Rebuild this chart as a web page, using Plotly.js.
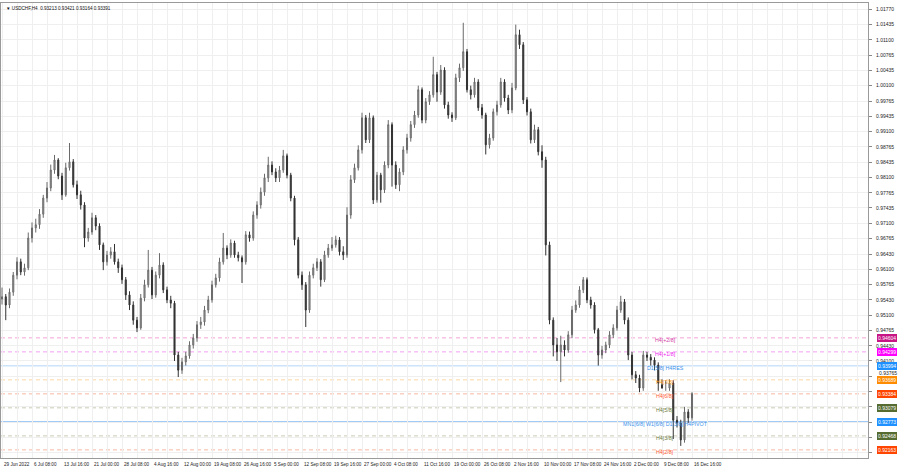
<!DOCTYPE html>
<html>
<head>
<meta charset="utf-8">
<script src="https://cdn.plot.ly/plotly-3.0.1.min.js"></script>
<style>html,body{margin:0;padding:0;background:#fff;}#chart{width:900px;height:468px;}</style>
</head>
<body>
<div id="chart"></div>
<script>
// ---- DATA ----
const titleText = "\u25BC USDCHF,H4  0.93213 0.93421 0.93164 0.93391";

const openP = [0.9545,0.9550,0.9532,0.9560,0.9597,0.9626,0.9604,0.9613,0.9678,0.9700,
0.9707,0.9730,0.9765,0.9787,0.9826,0.9848,0.9813,0.9772,0.9831,0.9844,
0.9794,0.9772,0.9750,0.9678,0.9691,0.9722,0.9704,0.9663,0.9626,0.9641,
0.9648,0.9626,0.9613,0.9587,0.9554,0.9532,0.9499,0.9482,0.9547,0.9576,
0.9608,0.9554,0.9597,0.9619,0.9565,0.9543,0.9536,0.9423,0.9390,0.9408,
0.9421,0.9445,0.9460,0.9489,0.9495,0.9521,0.9543,0.9576,0.9591,0.9626,
0.9656,0.9641,0.9667,0.9641,0.9635,0.9626,0.9685,0.9678,0.9728,0.9750,
0.9778,0.9809,0.9837,0.9822,0.9809,0.9826,0.9857,0.9815,0.9765,0.9674,
0.9597,0.9576,0.9521,0.9597,0.9613,0.9626,0.9587,0.9641,0.9656,0.9663,
0.9674,0.9648,0.9641,0.9728,0.9805,0.9831,0.9870,0.9940,0.9892,0.9940,
0.9761,0.9815,0.9783,0.9837,0.9925,0.9837,0.9794,0.9822,0.9870,0.9896,
0.9925,0.9946,1.0001,0.9935,0.9975,0.9990,1.0034,0.9996,1.0044,0.9968,
0.9946,0.9940,1.0027,1.0049,1.0084,1.0001,0.9990,1.0018,0.9962,0.9946,
0.9881,0.9896,0.9953,0.9968,1.0018,0.9983,0.9957,1.0005,1.0121,1.0099,
0.9979,0.9953,0.9892,0.9914,0.9866,0.9848,0.9663,0.9499,0.9445,0.9430,
0.9445,0.9434,0.9467,0.9521,0.9532,0.9565,0.9587,0.9543,0.9532,0.9478,
0.9423,0.9434,0.9445,0.9467,0.9482,0.9521,0.9539,0.9499,0.9423,0.9380,
0.9373,0.9351,0.9423,0.9418,0.9412,0.9401,0.9358,0.9362,0.9351,0.9362,
0.9281,0.9275,0.9238,0.9299,0.9286];

const highP = [0.9570,0.9556,0.9568,0.9604,0.9636,0.9633,0.9622,0.9690,0.9712,0.9720,
0.9741,0.9772,0.9800,0.9838,0.9859,0.9852,0.9820,0.9842,0.9885,0.9850,
0.9803,0.9781,0.9756,0.9700,0.9733,0.9728,0.9710,0.9668,0.9650,0.9658,
0.9665,0.9633,0.9620,0.9593,0.9562,0.9540,0.9506,0.9556,0.9587,0.9652,
0.9615,0.9605,0.9645,0.9625,0.9572,0.9552,0.9541,0.9430,0.9417,0.9430,
0.9453,0.9469,0.9497,0.9506,0.9530,0.9552,0.9585,0.9600,0.9635,0.9689,
0.9662,0.9675,0.9672,0.9648,0.9640,0.9693,0.9692,0.9736,0.9758,0.9788,
0.9818,0.9855,0.9845,0.9830,0.9835,0.9870,0.9862,0.9820,0.9770,0.9680,
0.9605,0.9582,0.9605,0.9622,0.9634,0.9632,0.9650,0.9665,0.9680,0.9683,
0.9680,0.9660,0.9745,0.9815,0.9840,0.9880,0.9951,0.9946,0.9951,0.9945,
0.9822,0.9820,0.9845,0.9935,0.9930,0.9845,0.9830,0.9878,0.9905,0.9933,
0.9955,1.0010,1.0006,0.9983,0.9998,1.0073,1.0040,1.0055,1.0050,0.9975,
0.9952,1.0036,1.0058,1.0147,1.0090,1.0010,1.0027,1.0024,0.9970,0.9951,
0.9905,0.9960,0.9977,1.0027,1.0024,0.9990,1.0016,1.0143,1.0132,1.0105,
0.9985,0.9960,0.9925,0.9920,0.9880,0.9855,0.9670,0.9505,0.9460,0.9465,
0.9455,0.9475,0.9530,0.9542,0.9573,0.9593,0.9592,0.9550,0.9538,0.9482,
0.9443,0.9452,0.9475,0.9490,0.9530,0.9552,0.9545,0.9505,0.9430,0.9388,
0.9380,0.9432,0.9430,0.9425,0.9418,0.9407,0.9370,0.9368,0.9370,0.9368,
0.9290,0.9282,0.9310,0.9305,0.9342];

const lowP = [0.9533,0.9499,0.9525,0.9552,0.9588,0.9597,0.9596,0.9608,0.9668,0.9690,
0.9698,0.9722,0.9756,0.9780,0.9818,0.9806,0.9761,0.9768,0.9825,0.9788,
0.9763,0.9740,0.9658,0.9670,0.9685,0.9695,0.9652,0.9608,0.9618,0.9633,
0.9620,0.9602,0.9578,0.9543,0.9521,0.9489,0.9473,0.9478,0.9540,0.9570,
0.9545,0.9548,0.9590,0.9558,0.9536,0.9525,0.9410,0.9375,0.9382,0.9400,
0.9415,0.9437,0.9452,0.9480,0.9487,0.9514,0.9537,0.9570,0.9583,0.9620,
0.9632,0.9635,0.9635,0.9627,0.9580,0.9620,0.9670,0.9672,0.9720,0.9742,
0.9770,0.9800,0.9815,0.9800,0.9800,0.9820,0.9808,0.9758,0.9662,0.9590,
0.9565,0.9484,0.9515,0.9590,0.9606,0.9572,0.9582,0.9635,0.9650,0.9657,
0.9640,0.9630,0.9635,0.9720,0.9798,0.9825,0.9862,0.9885,0.9885,0.9752,
0.9755,0.9755,0.9776,0.9830,0.9790,0.9785,0.9780,0.9815,0.9862,0.9888,
0.9918,0.9940,0.9928,0.9928,0.9968,0.9984,0.9975,0.9990,0.9960,0.9938,
0.9931,0.9935,1.0018,1.0042,0.9995,0.9980,0.9984,0.9955,0.9938,0.9860,
0.9873,0.9890,0.9945,0.9962,0.9975,0.9948,0.9950,1.0000,1.0090,0.9970,
0.9945,0.9884,0.9885,0.9858,0.9831,0.9640,0.9490,0.9420,0.9410,0.9364,
0.9420,0.9428,0.9460,0.9515,0.9526,0.9558,0.9536,0.9524,0.9470,0.9400,
0.9415,0.9427,0.9438,0.9460,0.9476,0.9515,0.9490,0.9412,0.9370,0.9362,
0.9342,0.9345,0.9410,0.9400,0.9390,0.9345,0.9350,0.9345,0.9345,0.9240,
0.9265,0.9225,0.9232,0.9275,0.9280];

const closeP = [0.9550,0.9532,0.9560,0.9597,0.9626,0.9604,0.9613,0.9678,0.9700,0.9707,
0.9730,0.9765,0.9787,0.9826,0.9848,0.9813,0.9772,0.9831,0.9844,0.9794,
0.9772,0.9750,0.9678,0.9691,0.9722,0.9704,0.9663,0.9626,0.9641,0.9648,
0.9626,0.9613,0.9587,0.9554,0.9532,0.9499,0.9482,0.9547,0.9576,0.9608,
0.9554,0.9597,0.9619,0.9565,0.9543,0.9536,0.9423,0.9390,0.9408,0.9421,
0.9445,0.9460,0.9489,0.9495,0.9521,0.9543,0.9576,0.9591,0.9626,0.9656,
0.9641,0.9667,0.9641,0.9635,0.9626,0.9685,0.9678,0.9728,0.9750,0.9778,
0.9809,0.9837,0.9822,0.9809,0.9826,0.9857,0.9815,0.9765,0.9674,0.9597,
0.9576,0.9521,0.9597,0.9613,0.9626,0.9587,0.9641,0.9656,0.9663,0.9674,
0.9648,0.9641,0.9728,0.9805,0.9831,0.9870,0.9940,0.9892,0.9940,0.9761,
0.9815,0.9783,0.9837,0.9925,0.9837,0.9794,0.9822,0.9870,0.9896,0.9925,
0.9946,1.0001,0.9935,0.9975,0.9990,1.0034,0.9996,1.0044,0.9968,0.9946,
0.9940,1.0027,1.0049,1.0084,1.0001,0.9990,1.0018,0.9962,0.9946,0.9881,
0.9896,0.9953,0.9968,1.0018,0.9983,0.9957,1.0005,1.0121,1.0099,0.9979,
0.9953,0.9892,0.9914,0.9866,0.9848,0.9663,0.9499,0.9445,0.9430,0.9445,
0.9434,0.9467,0.9521,0.9532,0.9565,0.9587,0.9543,0.9532,0.9478,0.9423,
0.9434,0.9445,0.9467,0.9482,0.9521,0.9539,0.9499,0.9423,0.9380,0.9373,
0.9351,0.9423,0.9418,0.9412,0.9401,0.9362,0.9351,0.9362,0.9362,0.9281,
0.9275,0.9238,0.9299,0.9286,0.9339];

const xTickLabels = ["29 Jun 2022","6 Jul 08:00","13 Jul 16:00","21 Jul 00:00","28 Jul 08:00",
"4 Aug 16:00","12 Aug 00:00","19 Aug 08:00","26 Aug 16:00","5 Sep 00:00","12 Sep 08:00",
"19 Sep 16:00","27 Sep 00:00","4 Oct 08:00","11 Oct 16:00","19 Oct 00:00","26 Oct 08:00",
"2 Nov 16:00","10 Nov 00:00","17 Nov 08:00","24 Nov 16:00","2 Dec 00:00","9 Dec 08:00","16 Dec 16:00"];

const yTickVals = [1.0177,1.01435,1.011,1.00765,1.00435,1.001,0.99765,0.99435,0.991,0.98765,
0.98435,0.981,0.97765,0.97435,0.971,0.96765,0.9643,0.961,0.95765,0.9543,0.951,0.94765,
0.9443,0.941,0.93765,0.9343,0.931,0.92765,0.9243,0.921];
const yTickText = ["1.01770","1.01435","1.01100","1.00765","1.00435","1.00100","0.99765","0.99435",
"0.99100","0.98765","0.98435","0.98100","0.97765","0.97435","0.97100","0.96765","0.96430",
"0.96100","0.95765","0.95430","0.95100","0.94765","0.94430","0.94100","","","","","",""];
// label drawn separately (nudged up so it clears the level box below it)
const extraYLabelVal = 0.93765;
const extraYLabelText = "0.93765";

const levelValues = [0.94604,0.94299,0.93994,0.93689,0.93384,0.93079,0.92773,0.92468,0.92163];
const levelLabels = ["H4[+2/8]","H4[+1/8]","D1[5/8] H4RES","H4[7/8]","H4[6/8]","H4[5/8]",
"MN1[6/8] W1[6/8] D1[3/8] H4PIVOT","H4[3/8]","H4[2/8]"];

// ---- STYLES ----
const levelLineColors = ["#f5a3d6","#f3a0f3","#b3d5f7","#fcd7a6","#f6b9a3","#cbcbb5","#6aaaf0","#cbcbb5","#f6b9a3"];
const levelDash = ["4px,3px","4px,3px","solid","4px,3px","4px,3px","4px,3px","solid","4px,3px","4px,3px"];
const levelTextColors = ["#d23aa3","#ee22ee","#3a90ea","#ff9a10","#ff5a30","#6b7a3a","#3a90ea","#6b7a3a","#ff5a30"];
const levelBoxColors = ["#c71585","#ff00ff","#1e90ff","#ff8c00","#ff4500","#556b2f","#1e90ff","#556b2f","#ff4500"];

const N = closeP.length;
const xs = [];
for (let i = 0; i < N; i++) xs.push(i);

const FONT = "Liberation Sans, Arial, sans-serif";

const trace = {
  type: "candlestick",
  x: xs, open: openP, high: highP, low: lowP, close: closeP,
  increasing: {line: {color: "#6a6a6a", width: 1}, fillcolor: "#b0b0b0"},
  decreasing: {line: {color: "#333333", width: 1}, fillcolor: "#333333"},
  whiskerwidth: 0,
  hoverinfo: "skip",
  showlegend: false
};

const shapes = [];
const annotations = [];
levelValues.forEach((v, k) => {
  shapes.push({type: "line", xref: "paper", x0: 0, x1: 1, yref: "y", y0: v, y1: v,
    line: {color: levelLineColors[k], width: 1, dash: levelDash[k]}, layer: "below"});
  annotations.push({xref: "x", x: 176.8, yref: "y", y: v, yshift: -2, text: levelLabels[k],
    showarrow: false, xanchor: "center", yanchor: "middle",
    font: {family: FONT, size: 5.3, color: levelTextColors[k]}});
  annotations.push({xref: "paper", x: 1, xshift: 9, yref: "y", y: v, text: v.toFixed(5),
    showarrow: false, xanchor: "left", yanchor: "middle", bgcolor: levelBoxColors[k],
    borderpad: 1, borderwidth: 0, font: {family: FONT, size: 5, color: "#ffffff"}});
});
annotations.push({xref: "paper", x: 1, xshift: 9, yref: "y", y: extraYLabelVal, yshift: 3,
  text: extraYLabelText, showarrow: false, xanchor: "left", yanchor: "middle",
  font: {family: FONT, size: 5, color: "#222222"}});
xTickLabels.forEach((t, k) => {
  annotations.push({xref: "x", x: 8 * k, yref: "paper", y: 0, yshift: -2, text: t,
    showarrow: false, xanchor: "left", yanchor: "top",
    font: {family: FONT, size: 4.6, color: "#222222"}});
});
annotations.push({xref: "paper", x: 0, xshift: 3, yref: "paper", y: 1, yshift: -1, text: titleText,
  showarrow: false, xanchor: "left", yanchor: "top", font: {family: FONT, size: 4.6, color: "#111111"}});

const layout = {
  width: 900, height: 468,
  margin: {l: 1, r: 32, t: 3, b: 10, pad: 0},
  paper_bgcolor: "#ffffff", plot_bgcolor: "#ffffff",
  showlegend: false,
  boxgap: 0.6,
  xaxis: {
    range: [-0.27, 230.93], tickmode: "linear", tick0: 0, dtick: 4,
    showticklabels: false, showgrid: true, gridcolor: "#efefef", gridwidth: 1,
    zeroline: false, showline: true, mirror: true, linecolor: "#9a9a9a", linewidth: 1,
    ticks: "", rangeslider: {visible: false}, fixedrange: true
  },
  yaxis: {
    range: [0.91986, 1.01901], side: "right", tickmode: "array",
    tickvals: yTickVals, ticktext: yTickText,
    showgrid: true, gridcolor: "#efefef", gridwidth: 1, zeroline: false,
    showline: true, mirror: true, linecolor: "#9a9a9a", linewidth: 1,
    ticks: "outside", ticklen: 3, tickcolor: "#888888", ticklabelstandoff: 3,
    tickfont: {family: FONT, size: 5, color: "#222222"}, fixedrange: true
  },
  shapes: shapes,
  annotations: annotations
};

Plotly.newPlot("chart", [trace], layout, {staticPlot: true, displayModeBar: false});
</script>
</body>
</html>
